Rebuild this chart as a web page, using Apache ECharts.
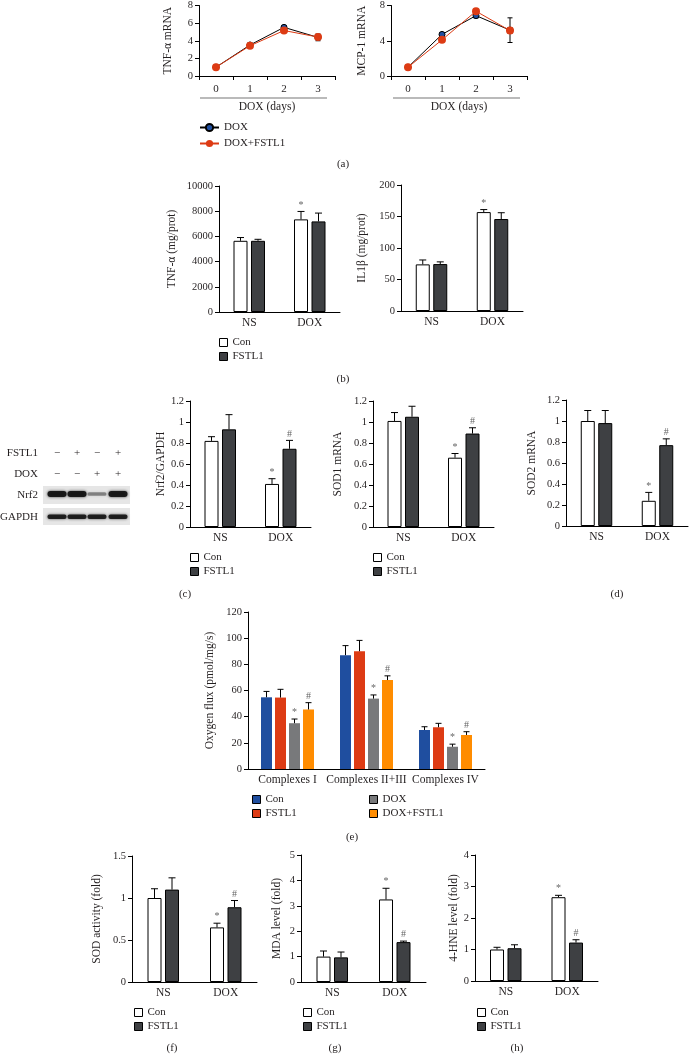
<!DOCTYPE html>
<html><head><meta charset="utf-8">
<script src="https://cdn.jsdelivr.net/npm/echarts@6/dist/echarts.min.js"></script>
<style>html,body{margin:0;padding:0;background:#fff}#c{width:689px;height:1054px}</style>
</head><body><div id="c"></div>
<script>
const FONT = '"Liberation Serif","Times New Roman",serif';
const TXT = '#231f20';

// ---------- data ----------
const days = ['0', '1', '2', '3'];
const tnfMrnaDox = [1.0, 3.52, 5.52, 4.38];
const tnfMrnaDoxErr = [0.05, 0.12, 0.18, 0.38];
const tnfMrnaDoxF = [1.0, 3.43, 5.16, 4.42];
const tnfMrnaDoxFErr = [0.05, 0.1, 0.12, 0.2];
const mcpMrnaDox = [1.0, 4.72, 6.85, 5.2];
const mcpMrnaDoxErr = [0.05, 0.2, 0.25, 1.4];
const mcpMrnaDoxF = [1.0, 4.1, 7.35, 5.15];
const mcpMrnaDoxFErr = [0.05, 0.15, 0.2, 0.3];

const groups = ['NS', 'DOX'];
const tnfProtCon = [5650, 7350], tnfProtConErr = [260, 630], tnfProtConSig = ['', '*'];
const tnfProtF = [5650, 7190], tnfProtFErr = [120, 660], tnfProtFSig = ['', ''];
const il1Con = [74, 157], il1ConErr = [7, 4], il1ConSig = ['', '*'];
const il1F = [74.5, 146], il1FErr = [3.5, 10], il1FSig = ['', ''];

const nrf2Con = [0.82, 0.41], nrf2ConErr = [0.04, 0.05], nrf2ConSig = ['', '*'];
const nrf2F = [0.93, 0.745], nrf2FErr = [0.14, 0.08], nrf2FSig = ['', '#'];
const sod1Con = [1.01, 0.66], sod1ConErr = [0.08, 0.04], sod1ConSig = ['', '*'];
const sod1F = [1.05, 0.89], sod1FErr = [0.1, 0.055], sod1FSig = ['', '#'];
const sod2Con = [1.0, 0.24], sod2ConErr = [0.1, 0.08], sod2ConSig = ['', '*'];
const sod2F = [0.98, 0.77], sod2FErr = [0.12, 0.06], sod2FSig = ['', '#'];

const complexes = ['Complexes I', 'Complexes II+III', 'Complexes IV'];
const oxCon = [54.8, 87.0, 29.8], oxConErr = [4.5, 7.3, 2.5];
const oxF = [54.6, 90.0, 31.9], oxFErr = [6.3, 8.3, 3.0];
const oxDox = [35.0, 53.8, 17.0], oxDoxErr = [3.2, 2.8, 2.0], oxDoxSig = ['*', '*', '*'];
const oxDoxF = [45.5, 68.0, 26.0], oxDoxFErr = [5.2, 3.2, 2.5], oxDoxFSig = ['#', '#', '#'];

const sodActCon = [1.0, 0.65], sodActConErr = [0.11, 0.05], sodActConSig = ['', '*'];
const sodActF = [1.1, 0.89], sodActFErr = [0.14, 0.08], sodActFSig = ['', '#'];
const mdaCon = [1.0, 3.25], mdaConErr = [0.22, 0.44], mdaConSig = ['', '*'];
const mdaF = [0.97, 1.57], mdaFErr = [0.21, 0.04], mdaFSig = ['', '#'];
const hneCon = [1.0, 2.66], hneConErr = [0.07, 0.06], hneConSig = ['', '*'];
const hneF = [1.04, 1.22], hneFErr = [0.11, 0.09], hneFSig = ['', '#'];

// blot
const fstl1Signs = ['\u2212', '+', '\u2212', '+'];
const doxSigns = ['\u2212', '\u2212', '+', '+'];
const nrf2Band = [0.95, 0.95, 0.42, 0.95];
const gapdhBand = [0.9, 0.9, 0.9, 0.9];

// ---------- colours ----------
const WHITE = '#ffffff', DARK = '#3e4043';
const BLUE = '#1f4e9f', RED = '#dd3b14', GRAY = '#78797b', ORANGE = '#ff8c00';

// ---------- layout ----------
const grids = [
  { left: 199, top: -13, width: 136, height: 89 },   // 0 a TNF mRNA
  { left: 391, top: 2, width: 136, height: 74 },     // 1 a MCP mRNA
  { left: 219, top: 186, width: 121, height: 126 },  // 2 b TNF prot
  { left: 401, top: 185, width: 122, height: 126 },  // 3 b IL1b
  { left: 190, top: 401, width: 121, height: 126 },  // 4 c Nrf2
  { left: 373, top: 401, width: 121, height: 126 },  // 5 d SOD1
  { left: 566, top: 400, width: 122, height: 126 },  // 6 d SOD2
  { left: 248, top: 612, width: 237, height: 157 },  // 7 e
  { left: 132, top: 856, width: 125, height: 126 },  // 8 f
  { left: 301, top: 855, width: 125, height: 127 },  // 9 g
  { left: 475, top: 855, width: 123, height: 126 }   // 10 h
];

function yAx(gi, max, interval, name, nameGap) {
  return {
    type: 'value', gridIndex: gi, min: 0, max: max, interval: interval,
    name: name, nameLocation: 'middle', nameRotate: 90, nameGap: nameGap,
    nameTextStyle: { fontFamily: FONT, fontSize: 11.5, color: TXT },
    axisLine: { show: true, lineStyle: { color: '#000', width: 1 } },
    axisTick: { show: true, length: 4, lineStyle: { color: '#000', width: 1 } },
    axisLabel: { fontFamily: FONT, fontSize: 10.5, color: TXT, margin: 6, formatter: v => String(v) },
    splitLine: { show: false }
  };
}
function xAx(gi, data, ticks, extra) {
  return Object.assign({
    type: 'category', gridIndex: gi, data: data, boundaryGap: true,
    axisLine: { show: true, lineStyle: { color: '#000', width: 1 } },
    axisTick: { show: ticks, length: 4, lineStyle: { color: '#000' } },
    axisLabel: { fontFamily: FONT, fontSize: 11.5, color: TXT, margin: 5, interval: 0 },
    splitLine: { show: false }
  }, extra || {});
}

function errSeries(gi, values, errs, sigs, offset, capHalf, symmetric) {
  return {
    type: 'custom', xAxisIndex: gi, yAxisIndex: gi, z: symmetric ? 1 : 5, silent: true,
    data: values.map((v, i) => [i, v, errs[i]]),
    encode: { x: 0, y: 1 },
    renderItem: function (params, api) {
      const i = api.value(0), v = api.value(1), e = api.value(2);
      const base = api.coord([i, v]);
      const top = api.coord([i, v + e]);
      const x = base[0] + offset;
      const y0 = symmetric ? api.coord([i, v - e])[1] : base[1];
      const st = { stroke: '#000', lineWidth: 1 };
      const ch = [
        { type: 'line', shape: { x1: x, y1: y0, x2: x, y2: top[1] }, style: st },
        { type: 'line', shape: { x1: x - capHalf, y1: top[1], x2: x + capHalf, y2: top[1] }, style: st }
      ];
      if (symmetric) ch.push({ type: 'line', shape: { x1: x - capHalf, y1: y0, x2: x + capHalf, y2: y0 }, style: st });
      const s = sigs && sigs[params.dataIndex];
      if (s) ch.push({ type: 'text', style: { text: s, x: x, y: top[1] - 1.5, align: 'center', verticalAlign: 'bottom', fontFamily: FONT, fontSize: 10, fill: '#666' } });
      return { type: 'group', children: ch };
    }
  };
}

// defs: [{name, values, errs, sigs, color}]
function barPanel(gi, defs, bw, gap, capHalf) {
  const out = [];
  const n = defs.length;
  defs.forEach((d) => {
    out.push({
      type: 'bar', name: d.name, xAxisIndex: gi, yAxisIndex: gi, data: d.values,
      barWidth: bw, barGap: (gap / bw * 100) + '%', silent: true,
      itemStyle: { color: d.color, borderColor: '#000', borderWidth: 1 }
    });
  });
  defs.forEach((d, k) => {
    const off = (k - (n - 1) / 2) * (bw + gap);
    out.push(errSeries(gi, d.values, d.errs, d.sigs, off, capHalf, false));
  });
  return out;
}
function twoBar(gi, prefix, con, conErr, conSig, f, fErr, fSig) {
  return barPanel(gi, [
    { name: prefix + ':Con', values: con, errs: conErr, sigs: conSig, color: WHITE },
    { name: prefix + ':FSTL1', values: f, errs: fErr, sigs: fSig, color: DARK }
  ], 14, 3.5, 3.5);
}
function lineSeries(gi, dox, doxErr, doxF, doxFErr) {
  return [
    errSeries(gi, dox, doxErr, null, 0, 2.5, true),
    errSeries(gi, doxF, doxFErr, null, 0, 2.5, true),
    { type: 'line', name: 'a:DOX', xAxisIndex: gi, yAxisIndex: gi, data: dox, symbol: 'circle', symbolSize: 6,
      z: 3, silent: true, lineStyle: { color: '#000', width: 1 }, itemStyle: { color: BLUE, borderColor: '#000', borderWidth: 1 } },
    { type: 'line', name: 'a:DOX+FSTL1', xAxisIndex: gi, yAxisIndex: gi, data: doxF, symbol: 'circle', symbolSize: 8,
      z: 4, silent: true, lineStyle: { color: RED, width: 1 }, itemStyle: { color: RED, borderWidth: 0 } }
  ];
}

const lblFmt = n => n.slice(n.indexOf(':') + 1);
function sqLegend(names, left, top) {
  return {
    data: names, left: left, top: top, orient: 'vertical', itemWidth: 8, itemHeight: 8, itemGap: 3,
    icon: 'rect', selectedMode: false, padding: 0,
    itemStyle: { borderColor: '#000', borderWidth: 1 },
    textStyle: { fontFamily: FONT, fontSize: 11, color: TXT },
    formatter: lblFmt
  };
}

const series = [].concat(
  lineSeries(0, tnfMrnaDox, tnfMrnaDoxErr, tnfMrnaDoxF, tnfMrnaDoxFErr),
  lineSeries(1, mcpMrnaDox, mcpMrnaDoxErr, mcpMrnaDoxF, mcpMrnaDoxFErr),
  twoBar(2, 'b', tnfProtCon, tnfProtConErr, tnfProtConSig, tnfProtF, tnfProtFErr, tnfProtFSig),
  twoBar(3, 'b', il1Con, il1ConErr, il1ConSig, il1F, il1FErr, il1FSig),
  twoBar(4, 'c', nrf2Con, nrf2ConErr, nrf2ConSig, nrf2F, nrf2FErr, nrf2FSig),
  twoBar(5, 'd', sod1Con, sod1ConErr, sod1ConSig, sod1F, sod1FErr, sod1FSig),
  twoBar(6, 'd', sod2Con, sod2ConErr, sod2ConSig, sod2F, sod2FErr, sod2FSig),
  barPanel(7, [
    { name: 'e:Con', values: oxCon, errs: oxConErr, sigs: null, color: BLUE },
    { name: 'e:FSTL1', values: oxF, errs: oxFErr, sigs: null, color: RED },
    { name: 'e:DOX', values: oxDox, errs: oxDoxErr, sigs: oxDoxSig, color: GRAY },
    { name: 'e:DOX+FSTL1', values: oxDoxF, errs: oxDoxFErr, sigs: oxDoxFSig, color: ORANGE }
  ], 11, 3, 3).map(s => { if (s.type === 'bar') s.itemStyle.borderWidth = 0; return s; }),
  twoBar(8, 'f', sodActCon, sodActConErr, sodActConSig, sodActF, sodActFErr, sodActFSig),
  twoBar(9, 'g', mdaCon, mdaConErr, mdaConSig, mdaF, mdaFErr, mdaFSig),
  twoBar(10, 'h', hneCon, hneConErr, hneConSig, hneF, hneFErr, hneFSig)
);

const aX = { axisLabel: { fontFamily: FONT, fontSize: 11, color: TXT, margin: 8 }, name: 'DOX (days)', nameLocation: 'middle', nameGap: 25, nameTextStyle: { fontFamily: FONT, fontSize: 11.5, color: TXT } };
const xAxes = [
  xAx(0, days, true, aX), xAx(1, days, true, aX),
  xAx(2, groups, false), xAx(3, groups, false), xAx(4, groups, false),
  xAx(5, groups, false), xAx(6, groups, false), xAx(7, complexes, false),
  xAx(8, groups, false), xAx(9, groups, false), xAx(10, groups, false)
];
const yAxes = [
  yAx(0, 8, 2, 'TNF-\u03b1 mRNA', 25),
  yAx(1, 8, 4, 'MCP-1 mRNA', 23),
  yAx(2, 10000, 2000, 'TNF-\u03b1 (mg/prot)', 41),
  yAx(3, 200, 50, 'IL1\u03b2 (mg/prot)', 33),
  yAx(4, 1.2, 0.2, 'Nrf2/GAPDH', 19),
  yAx(5, 1.2, 0.2, 'SOD1 mRNA', 29),
  yAx(6, 1.2, 0.2, 'SOD2 mRNA', 28),
  yAx(7, 120, 20, 'Oxygen flux (pmol/mg/s)', 32),
  yAx(8, 1.5, 0.5, 'SOD activity (fold)', 29),
  yAx(9, 5, 1, 'MDA level (fold)', 18),
  yAx(10, 4, 1, '4-HNE level (fold)', 13)
];

const legends = [
  { data: ['a:DOX', 'a:DOX+FSTL1'], left: 199, top: 122, orient: 'vertical', itemWidth: 19, itemHeight: 9, itemGap: 5,
    selectedMode: false, padding: 0, textStyle: { fontFamily: FONT, fontSize: 11, color: TXT }, formatter: lblFmt },
  sqLegend(['b:Con', 'b:FSTL1'], 219, 337),
  sqLegend(['c:Con', 'c:FSTL1'], 190, 552),
  sqLegend(['d:Con', 'd:FSTL1'], 373, 552),
  sqLegend(['e:Con', 'e:FSTL1'], 252, 794),
  sqLegend(['e:DOX', 'e:DOX+FSTL1'], 369, 794),
  sqLegend(['f:Con', 'f:FSTL1'], 134, 1007),
  sqLegend(['g:Con', 'g:FSTL1'], 303, 1007),
  sqLegend(['h:Con', 'h:FSTL1'], 477, 1007)
];

// ---------- graphic (labels, underline, blot) ----------
const g = [];
function txt(t, x, y, align) {
  g.push({ type: 'text', x: x, y: y, silent: true, style: { text: t, align: align || 'center', verticalAlign: 'middle', fontFamily: FONT, fontSize: 11, fill: TXT } });
}
[['(a)', 343, 164], ['(b)', 343, 379], ['(c)', 185, 594], ['(d)', 617, 594], ['(e)', 352, 837],
 ['(f)', 172, 1048], ['(g)', 335, 1048], ['(h)', 517, 1048]].forEach(p => txt(p[0], p[1], p[2]));
g.push({ type: 'line', silent: true, shape: { x1: 200, y1: 98, x2: 327, y2: 98 }, style: { stroke: '#777', lineWidth: 1.2 } });
g.push({ type: 'line', silent: true, shape: { x1: 393, y1: 98, x2: 520, y2: 98 }, style: { stroke: '#777', lineWidth: 1.2 } });

// blot panel
txt('FSTL1', 38, 453, 'right');
txt('DOX', 38, 474, 'right');
txt('Nrf2', 38, 495, 'right');
txt('GAPDH', 38, 517, 'right');
const laneX = [57, 77, 97, 118];
laneX.forEach((lx, i) => {
  txt(fstl1Signs[i], lx, 453);
  txt(doxSigns[i], lx, 474);
});
g.push({ type: 'rect', silent: true, shape: { x: 43, y: 486, width: 87, height: 18 }, style: { fill: '#e6e6e6' } });
g.push({ type: 'rect', silent: true, shape: { x: 43, y: 508, width: 87, height: 17 }, style: { fill: '#e6e6e6' } });
laneX.forEach((lx, i) => {
  const a = nrf2Band[i];
  const h = 2 + 4 * a;
  g.push({ type: 'rect', silent: true, shape: { x: lx - 9.5, y: 494 - h / 2, width: 19, height: h, r: h / 2 },
    style: { fill: 'rgba(20,20,20,' + a + ')', shadowBlur: 3, shadowColor: 'rgba(0,0,0,' + (a * 0.8) + ')' } });
  const b = gapdhBand[i];
  g.push({ type: 'rect', silent: true, shape: { x: lx - 9.5, y: 514.5, width: 19, height: 4.5, r: 2 },
    style: { fill: 'rgba(20,20,20,' + b + ')', shadowBlur: 3, shadowColor: 'rgba(0,0,0,0.7)' } });
});

const chart = echarts.init(document.getElementById('c'), null, { renderer: 'canvas' });
chart.setOption({
  animation: false,
  backgroundColor: '#fff',
  grid: grids,
  xAxis: xAxes,
  yAxis: yAxes,
  legend: legends,
  series: series,
  graphic: g
});
</script></body></html>
